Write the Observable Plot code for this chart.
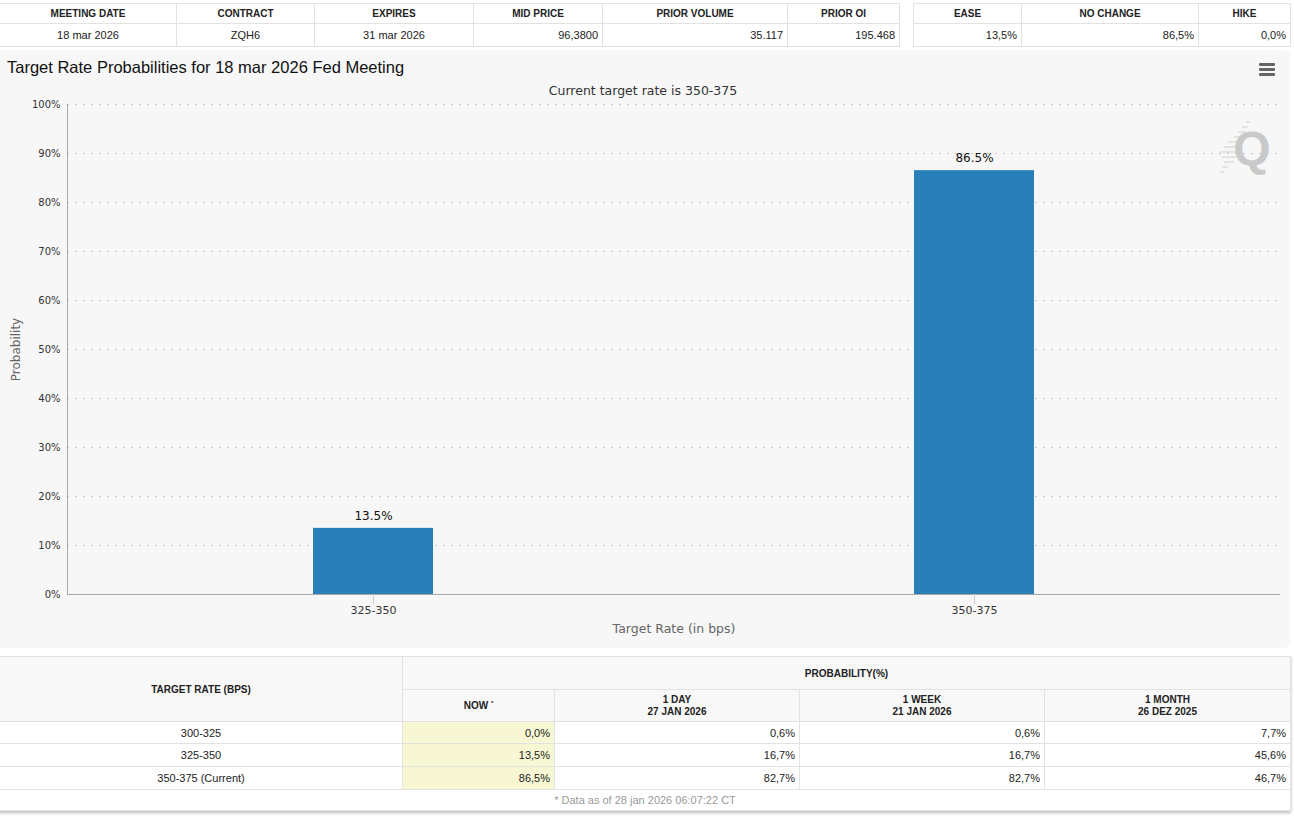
<!DOCTYPE html>
<html>
<head>
<meta charset="utf-8">
<script src="https://cdn.jsdelivr.net/npm/d3@7"></script>
<script src="https://cdn.jsdelivr.net/npm/@observablehq/plot@0.6"></script>
<style>
  html, body { margin: 0; padding: 0; background: #fff; width: 1294px; height: 816px; overflow: hidden; font-family: "Liberation Sans", Arial, sans-serif; }
  .abs { position: absolute; }
  table { border-collapse: collapse; table-layout: fixed; font-family: "Liberation Sans", Arial, sans-serif; color: #222; }
  td, th { border: 1px solid #e2e2e2; padding: 0 4px; font-size: 11px; overflow: hidden; white-space: nowrap; }
  th { font-size: 10px; font-weight: bold; text-align: center; }
  .r { text-align: right; }
  .c { text-align: center; }
  #chartbox { left: 0; top: 50px; width: 1290px; height: 598px; background: #f7f7f7; border-radius: 0 6px 6px 0; }
  #title { left: 7px; top: 58px; font-size: 16.5px; color: #111; font-family: "Liberation Sans", Arial, sans-serif; }
  #subtitle { left: 0; width: 1286px; top: 83px; text-align: center; font-size: 12.5px; color: #333; font-family: "DejaVu Sans", sans-serif; }
  #menu { left: 1259px; top: 63px; width: 16px; }
  #menu div { height: 3px; background: #666; margin-bottom: 2px; border-radius: 1px; }
  #plot { left: 0; top: 80px; }
  #bt th { background: #f8f8f8; }
  #bt td.now { background: #f8f7d3; }
  #bt { box-shadow: 0 2px 3px rgba(0,0,0,0.25); }
</style>
</head>
<body>
<script>
// ---- data ----
const meetingHeaders = ["MEETING DATE", "CONTRACT", "EXPIRES", "MID PRICE", "PRIOR VOLUME", "PRIOR OI"];
const meetingValues = ["18 mar 2026", "ZQH6", "31 mar 2026", "96,3800", "35.117", "195.468"];
const outlookHeaders = ["EASE", "NO CHANGE", "HIKE"];
const outlookValues = ["13,5%", "86,5%", "0,0%"];

const chartTitle = "Target Rate Probabilities for 18 mar 2026 Fed Meeting";
const chartSubtitle = "Current target rate is 350-375";
const rates = ["325-350", "350-375"];
const probabilities = [13.5, 86.5];
const yTicks = [0, 10, 20, 30, 40, 50, 60, 70, 80, 90, 100];
const xTitle = "Target Rate (in bps)";
const yTitle = "Probability";

const tableRates = ["300-325", "325-350", "350-375 (Current)"];
const periodHeaders = [["NOW", ""], ["1 DAY", "27 JAN 2026"], ["1 WEEK", "21 JAN 2026"], ["1 MONTH", "26 DEZ 2025"]];
const probNow = ["0,0%", "13,5%", "86,5%"];
const prob1Day = ["0,6%", "16,7%", "82,7%"];
const prob1Week = ["0,6%", "16,7%", "82,7%"];
const prob1Month = ["7,7%", "45,6%", "46,7%"];
const footnote = "* Data as of 28 jan 2026 06:07:22 CT";

// ---- top tables ----
function el(tag, attrs, html) {
  const e = document.createElement(tag);
  Object.assign(e, attrs || {});
  if (html != null) e.innerHTML = html;
  return e;
}
const t1Widths = [177, 138, 159, 129, 185, 112];
const t1Align = ["c", "c", "c", "r", "r", "r"];
const t1 = el("table", {className: "abs"});
t1.style.left = "-1px"; t1.style.top = "3px"; t1.style.width = "901px";
let cg = "<colgroup>" + t1Widths.map(w => `<col style="width:${w}px">`).join("") + "</colgroup>";
t1.innerHTML = cg +
  "<tr style='height:20px'>" + meetingHeaders.map(h => `<th>${h}</th>`).join("") + "</tr>" +
  "<tr style='height:23px'>" + meetingValues.map((v, i) => `<td class="${t1Align[i]}">${v}</td>`).join("") + "</tr>";
document.body.appendChild(t1);

const t2Widths = [108, 177, 92];
const t2 = el("table", {className: "abs"});
t2.style.left = "913px"; t2.style.top = "3px"; t2.style.width = "377px";
t2.innerHTML = "<colgroup>" + t2Widths.map(w => `<col style="width:${w}px">`).join("") + "</colgroup>" +
  "<tr style='height:20px'>" + outlookHeaders.map(h => `<th>${h}</th>`).join("") + "</tr>" +
  "<tr style='height:23px'>" + outlookValues.map(v => `<td class="r">${v}</td>`).join("") + "</tr>";
document.body.appendChild(t2);

// ---- chart box ----
document.body.appendChild(el("div", {className: "abs", id: "chartbox"}));
document.body.appendChild(el("div", {className: "abs", id: "title"}, chartTitle));
document.body.appendChild(el("div", {className: "abs", id: "subtitle"}, chartSubtitle));
document.body.appendChild(el("div", {className: "abs", id: "menu"}, "<div></div><div></div><div></div>"));
const logo = el("div", {className: "abs"});
logo.style.left = "1214px"; logo.style.top = "104px";
logo.innerHTML = `<svg width="60" height="80" xmlns="http://www.w3.org/2000/svg">
  <g stroke="#d6d6d6" stroke-width="1.2">
    <line x1="32" y1="18" x2="36" y2="18"/><line x1="28" y1="23" x2="34" y2="23"/>
    <line x1="24" y1="28" x2="32" y2="28"/><line x1="20" y1="33" x2="30" y2="33"/>
    <line x1="14" y1="38" x2="28" y2="38"/><line x1="10" y1="43" x2="26" y2="43"/>
    <line x1="6" y1="48" x2="24" y2="48"/><line x1="8" y1="53" x2="22" y2="53"/>
    <line x1="10" y1="58" x2="20" y2="58"/><line x1="8" y1="63" x2="14" y2="63"/>
    <line x1="6" y1="68" x2="10" y2="68"/>
  </g>
  <text x="38" y="61" text-anchor="middle" font-family="Liberation Sans, Arial" font-weight="bold" font-size="48" fill="#c9c9c9">Q</text>
</svg>`;
document.body.appendChild(logo);

// ---- plot ----
const data = rates.map((r, i) => ({rate: r, prob: probabilities[i]}));
const plot = Plot.plot({
  width: 1290,
  height: 568,
  marginTop: 24,
  marginBottom: 54,
  marginLeft: 67,
  marginRight: 10,
  style: {background: "transparent", fontFamily: "DejaVu Sans, sans-serif", overflow: "visible"},
  x: {domain: rates, paddingInner: 0.8, paddingOuter: 0.409, label: null},
  y: {domain: [0, 100], label: null},
  marks: [
    Plot.gridY(yTicks, {stroke: "#c8c8c8", strokeOpacity: 1, strokeDasharray: "2,6"}),
    Plot.barY(data, {x: "rate", y: "prob", fill: "#2980b9"}),
    Plot.ruleY([0], {stroke: "#a8a8a8"}),
    Plot.frame({anchor: "left", stroke: "#a8a8a8"}),
    Plot.axisY(yTicks, {tickSize: 0, tickPadding: 7, tickFormat: d => d + "%", fontSize: 10, fill: "#333", label: null}),
    Plot.axisX({tickSize: 10, tickPadding: 2, stroke: "#cfcfcf", fill: "#333", fontSize: 11, label: null}),
    Plot.text(data, {x: "rate", y: "prob", text: d => d.prob.toFixed(1) + "%", dy: -12, fontSize: 12, fill: "#111"}),
    Plot.text([xTitle], {frameAnchor: "bottom", dy: 38, fontSize: 12.5, fill: "#666"}),
    Plot.text([yTitle], {frameAnchor: "left", textAnchor: "middle", rotate: -90, dx: -51, fontSize: 12, fill: "#666"})
  ]
});
plot.classList.add("abs");
plot.id = "plot";
document.body.appendChild(plot);

// ---- bottom table ----
const bt = el("table", {className: "abs", id: "bt"});
bt.style.left = "-1px"; bt.style.top = "656px"; bt.style.width = "1291px";
const btWidths = [403, 152, 245, 245, 246];
const cols = [probNow, prob1Day, prob1Week, prob1Month];
let html = "<colgroup>" + btWidths.map(w => `<col style="width:${w}px">`).join("") + "</colgroup>";
html += `<tr style="height:33px"><th rowspan="2">TARGET RATE (BPS)</th><th colspan="4">PROBABILITY(%)</th></tr>`;
html += `<tr style="height:32px">` + periodHeaders.map((p, i) =>
  i === 0 ? `<th>${p[0]} <sup style="font-size:6px">*</sup></th>` : `<th style="line-height:12px">${p[0]}<br>${p[1]}</th>`).join("") + "</tr>";
tableRates.forEach((r, i) => {
  html += `<tr style="height:${i === 0 ? 22 : 23}px"><td class="c">${r}</td>` +
    cols.map((c, j) => `<td class="r${j === 0 ? " now" : ""}">${c[i]}</td>`).join("") + "</tr>";
});
html += `<tr style="height:21px"><td colspan="5" class="c" style="color:#999">${footnote}</td></tr>`;
bt.innerHTML = html;
document.body.appendChild(bt);
</script>
</body>
</html>
